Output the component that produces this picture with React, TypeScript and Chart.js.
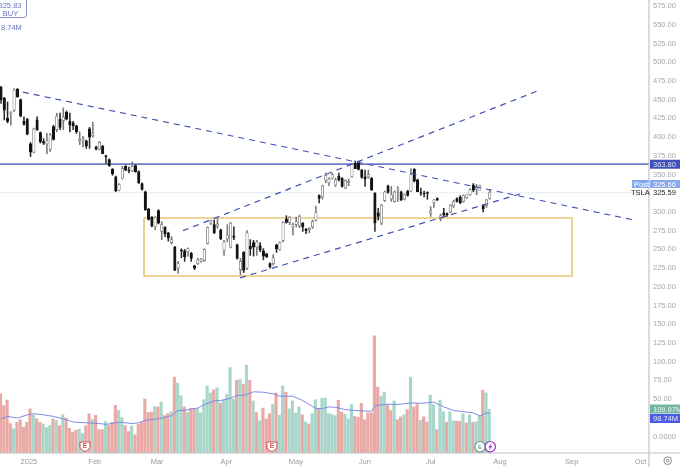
import { useEffect, useRef } from 'react'
import { Chart, registerables } from 'chart.js'
Chart.register(...registerables)

const opens = [
  467,452,425,431,436,464,450,421,424,391,
  380,423,406,394,391,384,414,410,424,422,
  433,421,419,415,395,396,395,411,402,387,
  384,388,375,370,357,347,329,345,361,356,
  355,362,354,338,327,304,293,280,302,274,
  280,272,259,253,225,249,248,247,245,228,
  231,234,235,258,285,283,281,276,249,264,
  253,268,256,223,246,225,254,259,253,255,
  248,244,231,231,256,250,262,290,286,280,
  283,281,285,277,276,280,289,322,320,342,
  339,345,336,348,345,332,339,347,365,367,
  356,347,347,345,325,299,285,315,335,317,
  314,329,327,317,328,328,357,343,326,325,
  326,298,312,318,291,299,298,300,308,318,
  320,314,319,323,336,330,329,309,308,318,
]
const highs = [
  468,453,447,434,465,465,451,427,425,393,
  412,427,407,398,405,405,416,432,432,439,
  435,432,421,416,407,401,396,413,420,388,
  394,389,376,371,358,348,338,361,362,360,
  367,363,355,339,328,305,294,294,303,287,
  280,273,267,254,234,251,250,252,246,229,
  238,238,251,280,289,289,291,277,262,283,
  286,280,257,238,247,275,263,262,262,259,
  251,245,232,243,257,260,287,295,294,285,
  293,296,286,278,279,289,308,323,336,352,
  346,352,345,352,346,343,344,365,368,368,
  357,356,356,346,326,305,310,328,336,334,
  328,334,328,324,329,358,358,344,332,328,
  327,307,317,319,297,305,299,310,316,319,
  322,323,323,331,338,337,336,310,317,330,
]
const lows = [
  445,423,419,416,434,453,427,416,403,374,
  379,409,392,390,378,381,396,407,410,410,
  423,407,410,405,390,387,385,385,400,383,
  383,378,365,361,349,327,328,344,355,352,
  354,353,338,329,302,289,280,276,284,263,
  267,261,257,222,218,239,234,241,234,223,
  230,233,234,257,283,271,278,263,242,260,
  252,263,237,216,219,223,242,241,242,247,
  236,239,225,229,246,249,260,285,283,269,
  280,279,274,271,272,278,288,312,317,339,
  335,344,334,341,333,331,335,346,358,356,
  345,334,345,329,274,289,283,314,325,314,
  313,314,315,316,321,327,340,327,322,320,
  317,294,306,315,288,294,294,299,306,313,
  311,313,318,322,327,323,329,300,306,317,
]
const closes = [
  450,436,421,432,463,454,428,417,404,380,
  411,410,394,392,395,403,397,428,413,427,
  424,416,415,407,397,398,388,400,405,384,
  393,378,374,362,351,328,337,358,356,355,
  361,354,339,330,303,290,281,293,285,283,
  271,265,263,222,231,248,240,251,238,225,
  236,237,250,279,288,272,284,264,260,269,
  285,266,238,234,222,272,251,253,260,249,
  241,240,227,239,251,259,286,286,293,283,
  287,294,280,275,278,287,299,318,335,349,
  344,350,343,343,334,342,341,364,358,357,
  346,344,350,329,285,294,309,327,326,323,
  327,330,316,323,322,350,341,327,325,324,
  325,301,316,316,295,296,296,309,314,314,
  312,322,323,330,329,333,335,304,316,326,
]
const volumes = [
  149,119,133,74,61,77,84,65,77,111,
  96,86,77,73,64,69,86,82,69,96,
  88,62,52,57,60,49,69,99,84,95,
  59,59,79,70,77,120,107,89,69,54,
  68,46,72,77,136,102,103,117,116,128,
  94,99,104,191,176,144,116,102,112,111,
  112,101,134,169,151,159,164,126,134,148,
  215,136,183,185,173,221,183,131,102,81,
  113,86,99,122,151,95,169,153,111,131,
  101,116,96,78,73,99,134,111,138,138,
  99,97,94,133,103,98,86,122,92,90,
  125,84,101,101,295,166,143,153,122,107,
  131,84,91,96,109,191,116,122,82,91,
  78,146,122,59,133,104,77,104,81,80,
  80,99,76,96,77,79,94,158,151,110,
]
// 1 = green volume bar, 0 = red
const volumeUp = [
  0,0,0,0,1,0,0,0,0,0,
  1,0,0,1,1,1,0,1,0,1,
  0,0,0,0,1,1,0,0,1,0,
  0,0,1,0,0,0,1,1,0,0,
  1,0,0,0,0,0,0,1,0,1,
  0,0,1,0,1,1,0,1,0,0,
  1,1,1,1,1,0,1,0,1,1,
  1,1,0,1,0,1,0,1,0,1,
  0,0,0,1,0,1,1,0,1,1,
  1,1,0,1,0,1,1,0,1,1,
  1,1,1,0,0,1,1,1,0,0,
  0,0,0,0,0,0,1,1,0,0,
  1,0,0,1,0,1,0,0,1,0,
  0,1,1,0,1,1,0,1,1,0,
  0,1,0,1,0,1,1,0,1,1,
]
const maBars = [0,2,5,8,10,13,16,19,22,26,30,32,35,37,40,42,44,48,51,52,54,56,58,60,62,65,67,70,72,74,77,80,83,85,89,92,96,98,100,102,105,110,113,114,118,121,125,128,132,135,138,141,144,146,148,149]
const maValues = [86,92,88,96,99,96,92,86,78,76,74,72,76,77,74,76,82,86,92,94,107,107,111,113,122,131,132,138,145,145,154,153,149,143,143,132,112,112,116,115,109,106,105,119,123,122,126,125,128,116,107,104,101,93,101,99]

const priceTicks = [0,50,75,100,125,150,175,200,225,250,275,300,350,375,400,425,450,475,500,525,550,575]
const monthBars = [8.5,28.6,47.6,68.7,89.9,110.9,131,152.1,174,195]
const monthLabels = ['2025','Feb','Mar','Apr','May','Jun','Jul','Aug','Sep','Oct']

const downTrend = [{ x: 6.7, y: 460 }, { x: 193.3, y: 289 }]
const channelTop = [{ x: 55.5, y: 275 }, { x: 164.3, y: 463 }]
const channelBottom = [{ x: 72.9, y: 212 }, { x: 158.2, y: 324 }]
const zoneBars = [43.6, 174.1]
const zonePrices = [292, 214.4]
const resistance = 363.8
const postPrice = 325.66
const lastPrice = 325.59
const earningsBars = [25.6, 82.6]

const FONT = "'Liberation Sans', sans-serif"
const PAD_X = 649, PAD_Y = 453

const noPadding = (s: any) => {
  s.paddingTop = 0; s.paddingBottom = 0; s.paddingLeft = 0; s.paddingRight = 0
}

const overlay = {
  id: 'overlay',
  afterDraw(chart: any) {
    const { ctx, scales } = chart
    const y = scales.y
    const x = scales.x
    ctx.save()
    ctx.strokeStyle = '#c4c4c4'
    ctx.lineWidth = 1.2
    ctx.beginPath()
    ctx.moveTo(PAD_X, 0); ctx.lineTo(PAD_X, 467)
    ctx.moveTo(0, PAD_Y); ctx.lineTo(680, PAD_Y)
    ctx.stroke()

    const tag = (left: number, w: number, cy: number, h: number, bg: string, txt: string, color: string, tx: number) => {
      ctx.fillStyle = bg
      ctx.fillRect(left, cy - h / 2, w, h)
      ctx.fillStyle = color
      ctx.font = `7.5px ${FONT}`
      ctx.textAlign = 'left'
      ctx.textBaseline = 'middle'
      ctx.fillText(txt, tx, cy + 0.5)
    }
    tag(650, 30, y.getPixelForValue(resistance), 9, '#3f50b8', resistance.toFixed(2), '#dfe3f7', 653)
    tag(632, 17, 184, 8, '#86a9ee', 'Post', '#ffffff', 634)
    tag(650, 30, 184, 8, '#86a9ee', postPrice.toFixed(2), '#ffffff', 653)
    ctx.fillStyle = '#222'
    ctx.font = `7.5px ${FONT}`
    ctx.textAlign = 'left'
    ctx.textBaseline = 'middle'
    ctx.fillText('TSLA', 631, 193)
    ctx.fillText(lastPrice.toFixed(2), 653, 193)
    tag(650, 30, 409, 9, '#72b5a2', '109.97M', '#eef8f4', 653)
    tag(650, 30, 418.5, 9, '#4a5ae2', '98.74M', '#e6e9fc', 653)

    // position box, top left
    ctx.strokeStyle = '#8b94d2'
    ctx.lineWidth = 1
    ctx.beginPath()
    ctx.roundRect(-4, -3, 30.5, 20.5, 2.5)
    ctx.stroke()
    ctx.fillStyle = '#6a74bd'
    ctx.font = `7.5px ${FONT}`
    ctx.textAlign = 'center'
    ctx.fillText('325.83', 10, 5.5)
    ctx.fillText('BUY', 10.5, 13.5)
    ctx.textAlign = 'left'
    ctx.fillText('8.74M', 1, 28)

    // earnings shields
    earningsBars.forEach((b) => {
      const cx = x.getPixelForValue(b), cy = 446.5
      ctx.beginPath()
      ctx.moveTo(cx - 5, cy - 4.5)
      ctx.lineTo(cx + 5, cy - 4.5)
      ctx.lineTo(cx + 5, cy + 1.5)
      ctx.quadraticCurveTo(cx + 3, cy + 4, cx, cy + 5)
      ctx.quadraticCurveTo(cx - 3, cy + 4, cx - 5, cy + 1.5)
      ctx.closePath()
      ctx.fillStyle = '#fff'
      ctx.fill()
      ctx.strokeStyle = '#cf5f66'
      ctx.lineWidth = 1.2
      ctx.stroke()
      ctx.fillStyle = '#c9545c'
      ctx.font = `bold 6.5px ${FONT}`
      ctx.textAlign = 'center'
      ctx.fillText('E', cx, cy)
    })

    // next earnings and lightning badges
    ctx.fillStyle = '#fff'
    ctx.strokeStyle = '#5f9f8c'
    ctx.beginPath(); ctx.arc(480, 446.7, 5.2, 0, Math.PI * 2); ctx.fill(); ctx.stroke()
    ctx.fillStyle = '#4f8f7c'
    ctx.font = `6px ${FONT}`
    ctx.fillText('E', 480, 447)
    ctx.fillStyle = '#fff'
    ctx.strokeStyle = '#9a35c8'
    ctx.beginPath(); ctx.arc(490.3, 446.7, 5.2, 0, Math.PI * 2); ctx.fill(); ctx.stroke()
    ctx.fillStyle = '#9a35c8'
    ctx.beginPath()
    ctx.moveTo(491.8, 442.8); ctx.lineTo(488.3, 447.4); ctx.lineTo(490, 447.4)
    ctx.lineTo(488.8, 450.6); ctx.lineTo(492.3, 446); ctx.lineTo(490.6, 446)
    ctx.closePath(); ctx.fill()

    // gear
    ctx.strokeStyle = '#8a8a8a'
    ctx.lineWidth = 1
    ctx.beginPath(); ctx.arc(667.7, 460.7, 3.8, 0, Math.PI * 2); ctx.stroke()
    ctx.beginPath(); ctx.arc(667.7, 460.7, 1.4, 0, Math.PI * 2); ctx.stroke()
    ctx.restore()
  },
}

export default function App() {
  const ref = useRef<HTMLCanvasElement>(null)

  useEffect(() => {
    if (!ref.current) return
    const idx = opens.map((_, i) => i)
    const isUp = idx.map(i => closes[i] >= opens[i])
    const chart = new Chart(ref.current, {
      type: 'bar',
      data: {
        datasets: [
          { type: 'line', data: downTrend, borderColor: '#3f50b0', borderWidth: 1.2, borderDash: [6, 5], pointRadius: 0, order: 0 },
          { type: 'line', data: channelTop, borderColor: '#3f50b0', borderWidth: 1.2, borderDash: [6, 5], pointRadius: 0, order: 0 },
          { type: 'line', data: channelBottom, borderColor: '#3f50b0', borderWidth: 1.2, borderDash: [6, 5], pointRadius: 0, order: 0 },
          {
            type: 'line', borderColor: '#e9c678', borderWidth: 1.6, pointRadius: 0, order: 4,
            data: [
              { x: zoneBars[0], y: zonePrices[0] }, { x: zoneBars[1], y: zonePrices[0] },
              { x: zoneBars[1], y: zonePrices[1] }, { x: zoneBars[0], y: zonePrices[1] },
              { x: zoneBars[0], y: zonePrices[0] },
            ],
          },
          { type: 'line', data: [{ x: -1, y: resistance }, { x: 198, y: resistance }], borderColor: '#6f7cc4', borderWidth: 1.8, pointRadius: 0, order: 4 },
          { type: 'line', data: [{ x: -1, y: postPrice }, { x: 198, y: postPrice }], borderColor: '#e2ebf9', borderWidth: 1, pointRadius: 0, order: 5 },
          {
            type: 'bar', grouped: false, order: 1, barThickness: 2.5, borderWidth: 0.7, borderSkipped: false,
            data: idx.map(i => ({ x: i, y: [opens[i], closes[i]] })),
            backgroundColor: isUp.map(u => (u ? '#ffffff' : '#141414')),
            borderColor: isUp.map(u => (u ? '#6e6e6e' : '#141414')),
          },
          {
            type: 'bar', grouped: false, order: 2, barThickness: 0.9, borderWidth: 0,
            data: idx.map(i => ({ x: i, y: [lows[i], highs[i]] })),
            backgroundColor: isUp.map(u => (u ? '#777777' : '#2a2a2a')),
          },
          {
            type: 'bar', grouped: false, order: 6, barThickness: 2.5, borderWidth: 0, yAxisID: 'yVol',
            data: idx.map(i => ({ x: i - 0.15, y: volumes[i] })),
            backgroundColor: volumeUp.map(u => (u ? '#a9d6ca' : '#e9aaa5')),
          },
          {
            type: 'line', yAxisID: 'yVol', order: 3, borderColor: '#7f8ae6', borderWidth: 1, pointRadius: 0,
            data: maBars.map((b, i) => ({ x: b, y: maValues[i] })),
          },
        ] as any,
      },
      options: {
        responsive: false,
        animation: false,
        layout: { padding: 0, autoPadding: false },
        plugins: { legend: { display: false }, tooltip: { enabled: false } },
        scales: {
          x: {
            type: 'linear', offset: false, min: -0.305, max: 197.56,
            grid: { display: false, drawTicks: false }, border: { display: false },
            afterBuildTicks: (s: any) => { s.ticks = monthBars.map(v => ({ value: v })) },
            afterFit: (s: any) => { s.height = 14; noPadding(s) },
            ticks: {
              autoSkip: false, maxRotation: 0, padding: 4,
              color: '#9a9a9a', font: { size: 7.5, family: FONT },
              callback: (v: any) => monthLabels[monthBars.indexOf(v)],
            },
          },
          y: {
            position: 'right', min: -22.04, max: 583.2,
            grid: { display: false, drawTicks: false }, border: { display: false },
            afterBuildTicks: (s: any) => { s.ticks = priceTicks.map(v => ({ value: v })) },
            afterFit: (s: any) => { s.width = 31; noPadding(s) },
            ticks: {
              autoSkip: false, padding: 4, color: '#a8a8a8', font: { size: 7.5, family: FONT }, align: 'center', crossAlign: 'near',
              callback: (v: any) => (v === 0 ? '0.0000' : Number(v).toFixed(2)),
            },
          },
          yVol: { display: false, min: 0, max: 1140 },
        },
      } as any,
      plugins: [overlay],
    })
    return () => chart.destroy()
  }, [])

  return (
    <div style={{ position: 'absolute', left: 0, top: 0, width: 680, height: 467, background: '#fff' }}>
      <canvas ref={ref} width={680} height={467} style={{ display: 'block' }} />
    </div>
  )
}
